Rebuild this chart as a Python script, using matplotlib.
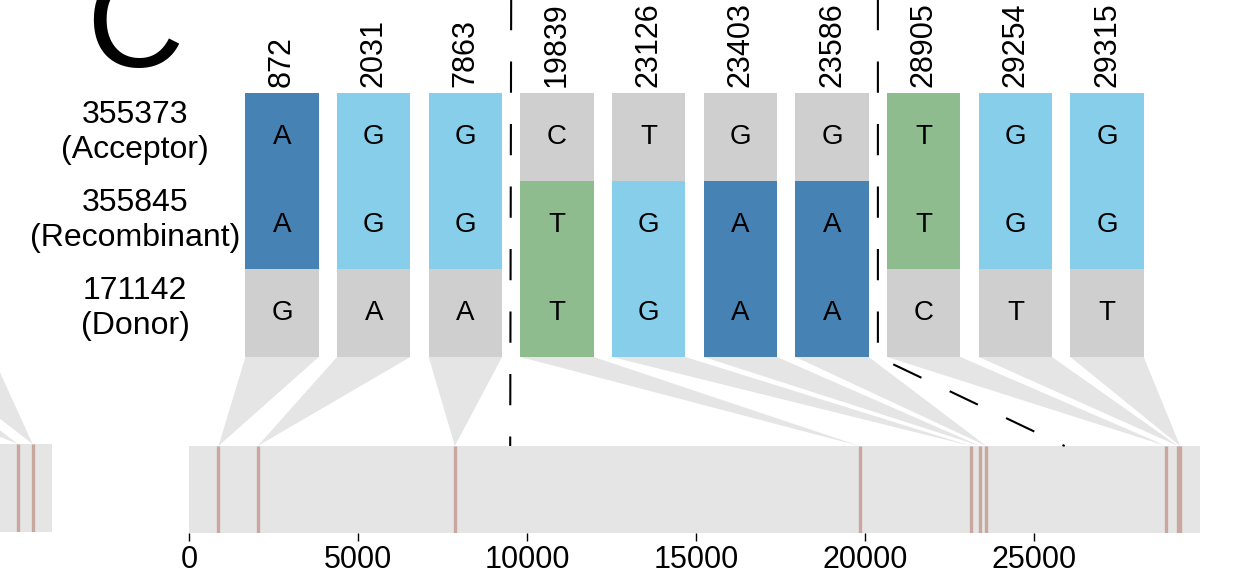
import matplotlib
matplotlib.use("Agg")
import matplotlib.pyplot as plt
from matplotlib.patches import Rectangle, Polygon
from matplotlib.lines import Line2D
import matplotlib.transforms as mtransforms

plt.rcParams['font.family'] = ['Liberation Sans', 'DejaVu Sans']

# mutation sites shown in the alignment
positions = [872, 2031, 7863, 19839, 23126, 23403, 23586, 28905, 29254, 29315]
acceptor = ['A', 'G', 'G', 'C', 'T', 'G', 'G', 'T', 'G', 'G']
recombinant = ['A', 'G', 'G', 'T', 'G', 'A', 'A', 'T', 'G', 'G']
donor = ['G', 'A', 'A', 'T', 'G', 'A', 'A', 'C', 'T', 'T']
sample_ids = ['355373', '355845', '171142']
roles = ['Acceptor', 'Recombinant', 'Donor']
breakpoints = [9500, 25900]
genome_length = 29903
genome_ticks = [0, 5000, 10000, 15000, 20000, 25000]
# sites of the neighbouring panel (cut off at the left edge)
panel_b_positions = [28890, 29330]

base_colors = {'A': '#4682b4', 'G': '#87ceeb', 'T': '#8fbc8f', 'C': '#eeb4b4'}
gray = '#cfcfcf'
light = '#e5e5e5'
mut_color = '#c9a79f'

W, H = 1234, 580
fig = plt.figure(figsize=(W / 100, H / 100), dpi=100)

# alignment grid
ax = fig.add_axes([236.2 / W, 1 - 357 / H, 916.7 / W, 264 / H])
ax.set_xlim(-0.5, len(positions) - 0.5)
ax.set_ylim(3, 0)
ax.axis('off')

# genome bar
gx = fig.add_axes([189 / W, 1 - 533 / H, 1011 / W, 87 / H])
gx.set_xlim(0, genome_length)
gx.set_ylim(0, 1)
for s in gx.spines.values():
    s.set_visible(False)
gx.set_yticks([])
gx.set_xticks(genome_ticks)
gx.set_xticklabels([str(t) for t in genome_ticks])
gx.tick_params(axis='x', length=6, width=1, labelsize=22, pad=3)
gx.add_patch(Rectangle((0, 0), genome_length, 1, color=light, lw=0))
gx.vlines(positions, 0, 1, color=mut_color, lw=2.4)

# neighbouring panel, mostly off the figure
bx = fig.add_axes([-959 / W, 1 - 532 / H, 1011 / W, 88 / H])
bx.set_xlim(0, genome_length)
bx.set_ylim(0, 1)
bx.axis('off')
bx.add_patch(Rectangle((0, 0), genome_length, 1, color=light, lw=0))
bx.vlines(panel_b_positions, 0, 1, color=mut_color, lw=2.4)

rows = [acceptor, recombinant, donor]
bw = 0.8
for j, seq in enumerate(rows):
    for i, b in enumerate(seq):
        if j == 1 or b == recombinant[i]:
            c = base_colors[b]
        else:
            c = gray
        ax.add_patch(Rectangle((i - bw / 2, j), bw, 1, color=c, lw=0))
        ax.text(i, j + 0.5, b, ha='center', va='center', fontsize=20)

for i, p in enumerate(positions):
    ax.annotate(str(p), (i, 0), xytext=(0, 4), textcoords='offset points',
                rotation=90, ha='center', va='bottom', fontsize=22)

lab_tr = mtransforms.blended_transform_factory(fig.transFigure, ax.transData)
for j, (sid, role) in enumerate(zip(sample_ids, roles)):
    ax.text(135 / W, j + 0.45, sid + '\n(' + role + ')', transform=lab_tr,
            ha='center', va='center', fontsize=23, linespacing=1.25)

fig.text(86 / W, 1 - 67 / H, 'C', fontsize=97, ha='left', va='baseline')


def to_fig(a, xy):
    return fig.transFigure.inverted().transform(a.transData.transform(xy))


# funnels from the alignment columns down to the genome positions
for i, p in enumerate(positions):
    pts = [to_fig(ax, (i - bw / 2, 3)), to_fig(ax, (i + bw / 2, 3)),
           to_fig(gx, (p, 1))]
    fig.patches.append(Polygon(pts, closed=True, transform=fig.transFigure,
                               color=light, lw=0, zorder=0))

# funnels of the neighbouring panel
b_tops = [(-200, -95), (-80, -7)]
for (x0, x1), p in zip(b_tops, panel_b_positions):
    apex = to_fig(bx, (p, 1))
    pts = [(x0 / W, 1 - 357 / H), (x1 / W, 1 - 357 / H), apex]
    fig.patches.append(Polygon(pts, closed=True, transform=fig.transFigure,
                               color=light, lw=0, zorder=0))

# breakpoint lines
top = 1 + 14 / H
xa = to_fig(ax, (2.5, 3))[0]
b1 = to_fig(gx, (breakpoints[0], 1))
fig.lines.append(Line2D([xa, b1[0]], [top, b1[1]], transform=fig.transFigure,
                        color='black', lw=1.5, ls=(0, (15, 15))))
c2 = to_fig(ax, (6.5, 3))
b2 = to_fig(gx, (breakpoints[1], 1))
fig.lines.append(Line2D([c2[0], c2[0], b2[0]], [top, c2[1], b2[1]],
                        transform=fig.transFigure, color='black', lw=1.5,
                        ls=(0, (15, 15))))

fig.savefig('out.png', dpi=100)
